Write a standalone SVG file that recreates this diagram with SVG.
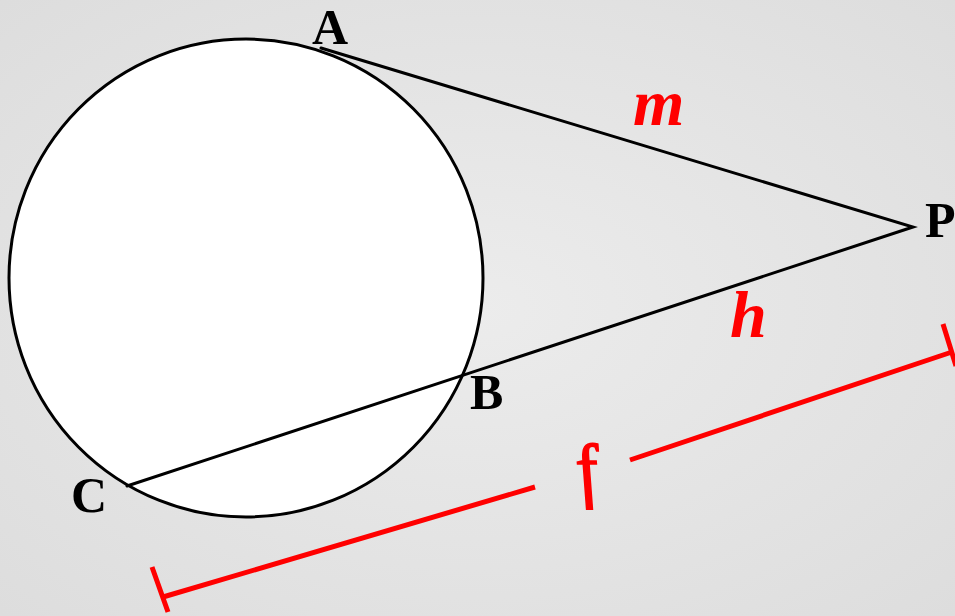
<svg xmlns="http://www.w3.org/2000/svg" width="955" height="616" viewBox="0 0 955 616">
<defs>
<radialGradient id="bg" cx="50%" cy="50%" r="75%">
<stop offset="0" stop-color="#ececec"/>
<stop offset="1" stop-color="#dcdcdc"/>
</radialGradient>
<style>
.blk{stroke:#000;stroke-width:3;fill:none;stroke-linecap:round}
.red{stroke:#ff0000;stroke-width:5;fill:none}
.pt{font-family:"Liberation Serif",serif;font-weight:bold;font-size:50px;fill:#000}
.var{font-family:"Liberation Serif",serif;font-weight:bold;font-style:italic;font-size:66px;fill:#ff0000}
</style>
</defs>
<rect width="955" height="616" fill="url(#bg)"/>
<g id="circle">
<ellipse cx="246" cy="278" rx="237" ry="239" fill="#fff" stroke="#000" stroke-width="3"/>
</g>
<g id="connectors">
<path class="blk" d="M321 48 L913 227 L127 486"/>
<path class="red" d="M163 597 L535 487 M630 460 L952 352"/>
<path class="red" d="M152 567 L168 612 M943 324 L956 366"/>
</g>
<g id="A"><text class="pt" x="312" y="44" font-size="48">A</text></g>
<g id="P"><text class="pt" x="925" y="237">P</text></g>
<g id="B"><text class="pt" x="470" y="409">B</text></g>
<g id="C"><text class="pt" x="71" y="512">C</text></g>
<g id="m"><text class="var" x="633" y="125">m</text></g>
<g id="h"><text class="var" x="730" y="337">h</text></g>
<g id="f"><text x="0" y="0" transform="translate(592,494) skewX(14)" text-anchor="middle" stroke="#ff0000" stroke-width="1.5" style="font-family:'Liberation Serif',serif;font-style:italic;font-size:72px;fill:#ff0000">f</text></g>
</svg>
